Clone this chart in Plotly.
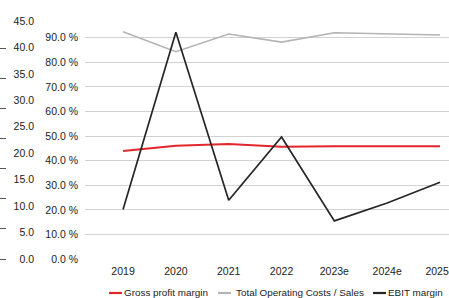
import plotly.graph_objects as go

years = ["2019", "2020", "2021", "2022", "2023e", "2024e", "2025e"]
gross_profit_margin = [43.9, 46.1, 46.8, 45.7, 45.9, 45.9, 45.9]
total_opex_sales = [92.4, 84.3, 91.5, 88.2, 92.0, 91.6, 91.1]
ebit_margin = [20.1, 92.2, 23.9, 49.6, 15.5, 22.8, 31.2]

pct_ticks = [0, 10, 20, 30, 40, 50, 60, 70, 80, 90]
pct_labels = [f"{v:.1f} %" for v in pct_ticks]
outer_ticks = [0, 5, 10, 15, 20, 25, 30, 35, 40, 45]
outer_labels = [f"{v:.1f}" for v in outer_ticks]

series = [
    ("Gross profit margin", gross_profit_margin, "#e3262b", 2),
    ("Total Operating Costs / Sales", total_opex_sales, "#b4b4b4", 1.6),
    ("EBIT margin", ebit_margin, "#262626", 1.7),
]

W, H = 449, 298
ML, MT, MB = 0, 21, 39
plot_left = 85

fig = go.Figure()
for name, vals, color, w in series:
    fig.add_trace(go.Scatter(x=years, y=vals, mode="lines", name=name,
                             line=dict(color=color, width=w), showlegend=False))

font = dict(family="Liberation Sans, Arial, sans-serif", size=10.5, color="#222222")
leg_font = dict(family="Liberation Sans, Arial, sans-serif", size=9.9, color="#222222")

fig.update_layout(
    width=W, height=H,
    margin=dict(l=ML, r=0, t=MT, b=MB, pad=0, autoexpand=False),
    paper_bgcolor="white", plot_bgcolor="white",
    font=font,
    xaxis=dict(domain=[plot_left / W, 1], type="category", range=[-0.72, 6.17],
               showgrid=False, zeroline=False, showline=False, ticks="",
               tickfont=font, ticklabelstandoff=4, automargin=False),
    yaxis=dict(range=[0, 96.8], tickvals=pct_ticks, ticktext=pct_labels,
               showgrid=True, gridcolor="#d2d2d2", gridwidth=1.2, zeroline=False,
               showline=False, ticks="", tickfont=font, ticklabelstandoff=6,
               automargin=False),
    yaxis2=dict(range=[0, 45], tickvals=outer_ticks, ticktext=outer_labels,
                overlaying="y", anchor="free", position=34 / W, side="left",
                showgrid=False, zeroline=False, showline=False, ticks="",
                tickfont=font, automargin=False),
    yaxis3=dict(range=[0, 237.8 / 30], dtick=1, overlaying="y", anchor="free",
                position=6 / W, side="left", showgrid=False, zeroline=False,
                showline=False, ticks="outside", ticklen=6, tickcolor="#555555",
                showticklabels=False, automargin=False),
)
fig.add_trace(go.Scatter(x=years, y=[None] * 7, yaxis="y2", showlegend=False, hoverinfo="skip"))
fig.add_trace(go.Scatter(x=years, y=[None] * 7, yaxis="y3", showlegend=False, hoverinfo="skip"))

plot_h = H - MT - MB
def py(pix):
    return (H - MB - pix) / plot_h

leg_y = 292.5
legend_items = [(109, 123), (218, 235), (373, 387)]
for (name, vals, color, w), (lx, tx) in zip(series, legend_items):
    fig.add_shape(type="line", xref="paper", yref="paper",
                  x0=lx / W, x1=(lx + 13) / W, y0=py(leg_y + 0.5), y1=py(leg_y + 0.5),
                  line=dict(color=color, width=2.2))
    fig.add_annotation(text=name, xref="paper", yref="paper", x=tx / W, y=py(leg_y),
                       xanchor="left", yanchor="middle", showarrow=False,
                       borderpad=0, font=leg_font)

fig.write_html("out.html", config={"displayModeBar": False},
               post_script="document.body.style.margin='0';document.body.style.overflow='hidden';")
